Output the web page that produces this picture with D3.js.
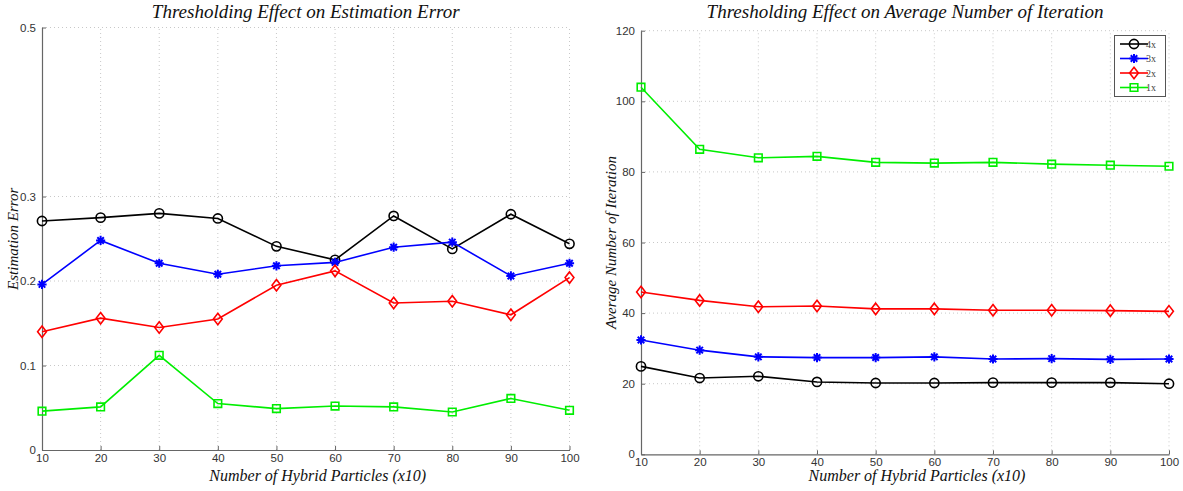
<!DOCTYPE html>
<html>
<head>
<meta charset="utf-8">
<script src="https://cdn.jsdelivr.net/npm/d3@7/dist/d3.min.js"></script>
<style>
  html, body { margin: 0; padding: 0; background: #fff; }
  svg { display: block; }
  .tick text { font-family: "Liberation Sans", Arial, sans-serif; font-size: 11.5px; fill: #333; }
  .ttl { font-family: "Liberation Serif", "Times New Roman", serif; font-style: italic; fill: #111; }
</style>
</head>
<body>
<svg id="chart" width="1183" height="491"></svg>
<script>
// Hybrid particle counts (x10) on the horizontal axis
const particles = [10, 20, 30, 40, 50, 60, 70, 80, 90, 100];

// Estimation error per threshold level
const errorX4 = [0.271, 0.275, 0.280, 0.274, 0.241, 0.225, 0.277, 0.238, 0.279, 0.244];
const errorX3 = [0.196, 0.248, 0.221, 0.208, 0.218, 0.222, 0.240, 0.246, 0.206, 0.221];
const errorX2 = [0.140, 0.156, 0.145, 0.155, 0.195, 0.212, 0.174, 0.176, 0.160, 0.204];
const errorX1 = [0.046, 0.051, 0.112, 0.055, 0.049, 0.052, 0.051, 0.045, 0.061, 0.047];

// Average number of iterations per threshold level
const iterX4 = [24.9, 21.6, 22.1, 20.5, 20.2, 20.2, 20.3, 20.3, 20.3, 20.0];
const iterX3 = [32.4, 29.5, 27.6, 27.4, 27.4, 27.6, 27.0, 27.1, 26.9, 27.0];
const iterX2 = [46.0, 43.6, 41.8, 42.0, 41.2, 41.2, 40.8, 40.8, 40.7, 40.5];
const iterX1 = [104.0, 86.4, 84.0, 84.4, 82.7, 82.5, 82.7, 82.2, 81.9, 81.6];

// Tick values and legend labels
const errorTicks = [0, 0.1, 0.2, 0.3, 0.5];
const iterTicks = [0, 20, 40, 60, 80, 100, 120];
const seriesNames = ["4x", "3x", "2x", "1x"];

const svg = d3.select("#chart");

// Marker path builders, centred on (0,0)
const markerPaths = {
  circle: r => `M${r},0A${r},${r} 0 1,1 ${-r},0A${r},${r} 0 1,1 ${r},0Z`,
  star: r => {
    const d = r * 0.7071;
    return `M${-r},0L${r},0M0,${-r}L0,${r}M${-d},${-d}L${d},${d}M${-d},${d}L${d},${-d}`;
  },
  diamond: r => `M0,${-r * 1.3}L${r},0L0,${r * 1.3}L${-r},0Z`,
  square: r => `M${-r},${-r}L${r},${-r}L${r},${r}L${-r},${r}Z`
};

const styles = [
  { color: "#000000", marker: "circle", size: 4.6 },
  { color: "#0000ff", marker: "star", size: 4.6 },
  { color: "#ff0000", marker: "diamond", size: 4.4 },
  { color: "#00ee00", marker: "square", size: 3.8 }
];

function drawPanel(opts) {
  const { x0, x1, y0, y1, yMax, ticks, tickFmt, series, title, ylabel } = opts;
  const x = d3.scaleLinear().domain([10, 100]).range([x0, x1]);
  const y = d3.scaleLinear().domain([0, yMax]).range([y0, y1]);
  const g = svg.append("g");

  // dotted grid
  g.append("g").selectAll("line").data(particles.slice(1)).join("line")
    .attr("x1", d => x(d)).attr("x2", d => x(d))
    .attr("y1", y0).attr("y2", y1)
    .attr("stroke", "#c8c8c8").attr("stroke-width", 1).attr("stroke-dasharray", "1,3");
  g.append("g").selectAll("line").data(ticks.filter(t => t > 0)).join("line")
    .attr("x1", x0).attr("x2", x1)
    .attr("y1", d => y(d)).attr("y2", d => y(d))
    .attr("stroke", "#c8c8c8").attr("stroke-width", 1).attr("stroke-dasharray", "1,3");

  // axes with inward ticks
  const xAxis = d3.axisBottom(x).tickValues(particles).tickSizeInner(-4).tickSizeOuter(0);
  const gx = g.append("g").attr("transform", `translate(0,${y0})`).call(xAxis);
  const yAxis = d3.axisLeft(y).tickValues(ticks).tickFormat(tickFmt).tickSizeInner(-4).tickSizeOuter(0).tickPadding(6);
  const gy = g.append("g").attr("transform", `translate(${x0},0)`).call(yAxis);
  [gx, gy].forEach(a => {
    a.select(".domain").attr("stroke", "#666").attr("stroke-width", 1.2);
    a.selectAll(".tick line").attr("stroke", "#666");
  });
  gx.selectAll(".tick text").attr("y", 8).attr("dy", "0.35em");

  // series lines and markers
  const line = d3.line().x((d, i) => x(particles[i])).y(d => y(d));
  series.forEach((vals, k) => {
    const st = styles[k];
    g.append("path").datum(vals).attr("d", line)
      .attr("fill", "none").attr("stroke", st.color).attr("stroke-width", 1.6);
    g.append("g").selectAll("path").data(vals).join("path")
      .attr("transform", (d, i) => `translate(${x(particles[i])},${y(d)})`)
      .attr("d", markerPaths[st.marker](st.size))
      .attr("fill", "none").attr("stroke", st.color)
      .attr("stroke-width", st.marker === "star" ? 2 : 1.6);
  });

  // titles
  const cx = (x0 + x1) / 2;
  g.append("text").attr("class", "ttl").attr("x", cx).attr("y", 18)
    .attr("text-anchor", "middle").attr("font-size", 19).text(title);
  g.append("text").attr("class", "ttl").attr("x", cx + 12).attr("y", 481)
    .attr("text-anchor", "middle").attr("font-size", 16)
    .text("Number of Hybrid Particles (x10)");
  g.append("text").attr("class", "ttl")
    .attr("transform", `translate(${opts.ylabelX},${(y0 + y1) / 2}) rotate(-90)`)
    .attr("text-anchor", "middle").attr("font-size", 15).text(ylabel);
  return { x, y, g };
}

drawPanel({
  x0: 42, x1: 569.5, y0: 450, y1: 27.5, yMax: 0.5,
  ticks: errorTicks, tickFmt: d => d === 0 ? "0" : d3.format(".1f")(d),
  series: [errorX4, errorX3, errorX2, errorX1],
  title: "Thresholding Effect on Estimation Error",
  ylabel: "Estimation Error", ylabelX: 18
});

drawPanel({
  x0: 641, x1: 1169, y0: 454.3, y1: 30.7, yMax: 120,
  ticks: iterTicks, tickFmt: d3.format("d"),
  series: [iterX4, iterX3, iterX2, iterX1],
  title: "Thresholding Effect on Average Number of Iteration",
  ylabel: "Average Number of Iteration", ylabelX: 616
});

// legend
const lg = svg.append("g");
lg.append("rect").attr("x", 1114.5).attr("y", 35.5).attr("width", 51).attr("height", 61)
  .attr("fill", "#fff").attr("stroke", "#555").attr("stroke-width", 1);
seriesNames.forEach((name, k) => {
  const st = styles[k];
  const yy = 44 + k * 14.5;
  lg.append("line").attr("x1", 1120).attr("x2", 1148).attr("y1", yy).attr("y2", yy)
    .attr("stroke", st.color).attr("stroke-width", 1.6);
  lg.append("path").attr("transform", `translate(1134,${yy})`)
    .attr("d", markerPaths[st.marker](st.size))
    .attr("fill", "none").attr("stroke", st.color)
    .attr("stroke-width", st.marker === "star" ? 2 : 1.6);
  lg.append("text").attr("x", 1146).attr("y", yy + 3.5)
    .attr("font-family", "Liberation Serif, serif").attr("font-size", 10)
    .attr("fill", "#444").text(name);
});
</script>
</body>
</html>
